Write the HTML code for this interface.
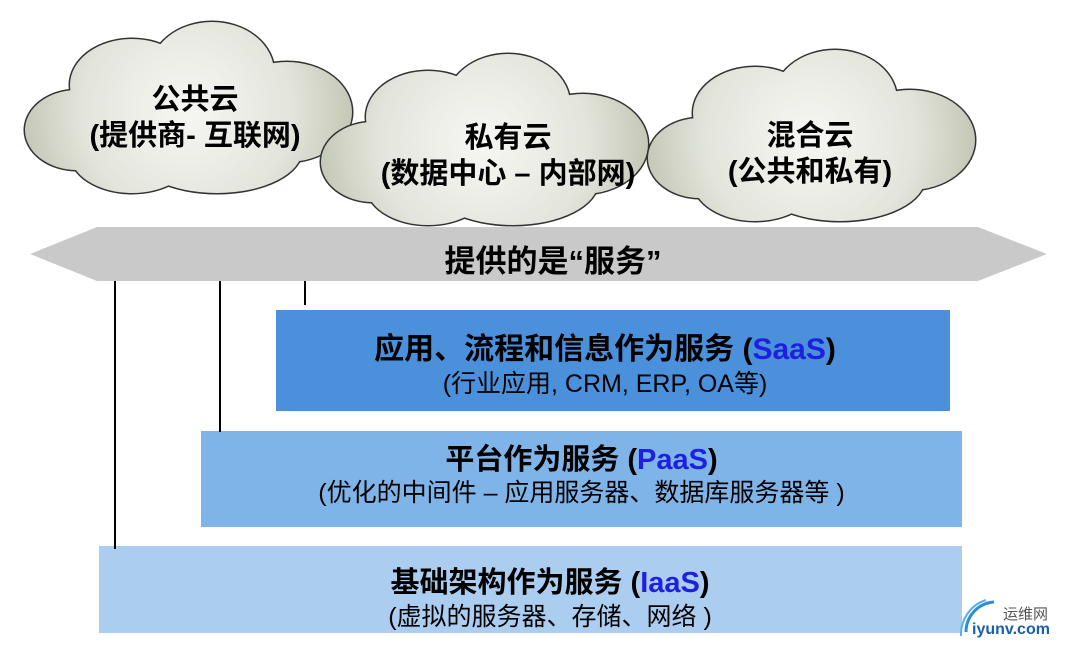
<!DOCTYPE html><html><head><meta charset="utf-8"><style>
body{margin:0;width:1067px;height:648px;background:#fff;position:relative;overflow:hidden;font-family:"Liberation Sans","Noto Sans CJK SC",sans-serif}
.t{position:absolute;text-align:center;color:#000;white-space:nowrap}
.h{font-size:29px;font-weight:bold;line-height:36px}
.s{font-size:25px;line-height:30px}
</style></head><body>
<svg width="1067" height="648" style="position:absolute;left:0;top:0">
<defs><radialGradient id="g" gradientUnits="userSpaceOnUse" cx="165" cy="90" r="175"><stop offset="0" stop-color="#f6f7f3"/><stop offset="0.6" stop-color="#e3e5dc"/><stop offset="1" stop-color="#bfc3b0"/></radialGradient>
<g id="c"><ellipse cx="55" cy="110" rx="52" ry="40"/><ellipse cx="110" cy="65" rx="62" ry="46"/><ellipse cx="190" cy="52" rx="62" ry="50"/><ellipse cx="265" cy="92" rx="65" ry="50"/><ellipse cx="195" cy="130" rx="85" ry="43"/><ellipse cx="110" cy="133" rx="62" ry="40"/><ellipse cx="165" cy="95" rx="115" ry="58"/></g>
</defs>
<g transform="translate(22,20)"><use href="#c" fill="none" stroke="#333" stroke-width="3"/><use href="#c" fill="url(#g)"/></g>
<g transform="translate(318,52)"><use href="#c" fill="none" stroke="#333" stroke-width="3"/><use href="#c" fill="url(#g)"/></g>
<g transform="translate(645,48)"><use href="#c" fill="none" stroke="#333" stroke-width="3"/><use href="#c" fill="url(#g)"/></g>
<polygon points="30,254 97,227 978,227 1047,254 978,281 97,281" fill="#c9c9c9"/>
<rect x="276" y="310" width="674" height="101" fill="#4a90db"/>
<rect x="201" y="431" width="761" height="96" fill="#7fb4e9"/>
<rect x="99" y="546" width="863" height="87" fill="#aacdf0"/>
<line x1="115" y1="281" x2="115" y2="549" stroke="#000" stroke-width="2"/>
<line x1="220" y1="281" x2="220" y2="432" stroke="#000" stroke-width="2"/>
<line x1="305" y1="281" x2="305" y2="305" stroke="#000" stroke-width="2"/>
<path d="M966 632 A30 30 0 0 1 994 602" stroke="#2a8ed8" stroke-width="3" fill="none"/>
<path d="M961 636 A36 36 0 0 1 986 600" stroke="#5ab0e8" stroke-width="2" fill="none"/>
</svg>
<div class="t h" style="left:45px;top:82px;width:300px">公共云<br>(提供商- 互联网)</div>
<div class="t h" style="left:358px;top:120px;width:300px">私有云<br>(数据中心 – 内部网)</div>
<div class="t h" style="left:660px;top:118px;width:300px">混合云<br>(公共和私有)</div>
<div class="t" style="left:300px;top:244px;width:506px;font-size:31px;font-weight:bold;line-height:36px">提供的是“服务”</div>
<div class="t h" style="left:268px;top:332px;width:674px;font-size:30px">应用、流程和信息作为服务 (<span style="color:#1f1fe0">SaaS</span>)</div>
<div class="t s" style="left:268px;top:369px;width:674px">(行业应用, CRM, ERP, OA等)</div>
<div class="t h" style="left:201px;top:442px;width:761px">平台作为服务 (<span style="color:#1f1fe0">PaaS</span>)</div>
<div class="t s" style="left:201px;top:478px;width:761px">(优化的中间件 – 应用服务器、数据库服务器等 )</div>
<div class="t h" style="left:100px;top:565px;width:900px">基础架构作为服务 (<span style="color:#1f1fe0">IaaS</span>)</div>
<div class="t s" style="left:100px;top:602px;width:900px">(虚拟的服务器、存储、网络 )</div>
<div class="t" style="left:1003px;top:603px;font-size:15px;color:#555">运维网</div>
<div class="t" style="left:972px;top:621px;font-size:16px;color:#1a5fa8;font-weight:bold">iyunv.com</div>
</body></html>
